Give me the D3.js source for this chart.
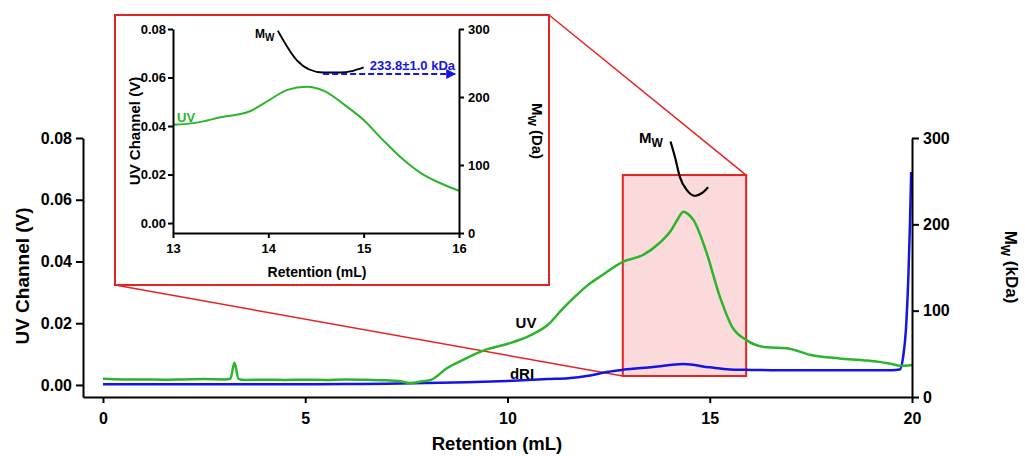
<!DOCTYPE html>
<html><head><meta charset="utf-8">
<script src="https://cdn.jsdelivr.net/npm/d3@7"></script>
<style>
html,body{margin:0;padding:0;background:#fff;}
text{font-family:"Liberation Sans",Arial,sans-serif;}
</style></head>
<body>
<svg id="chart" width="1025" height="456"></svg>
<script>
// ---------- DATA ----------
// Main chromatogram: UV channel (V)
const uvX = [0, 0.5, 1, 1.5, 2, 2.5, 3, 3.15, 3.25, 3.35, 3.5, 4, 4.5, 5, 5.5, 6, 6.5, 7, 7.3, 7.6, 7.9, 8.1, 8.5, 8.9, 9.4, 10.1, 10.55, 11.0, 11.35, 11.7, 12.0, 12.3, 12.85, 13.35, 13.75, 14.05, 14.2, 14.35, 14.45, 14.6, 14.9, 15.25, 15.55, 15.9, 16.4, 16.9, 17.5, 18.2, 18.9, 19.5, 19.7, 20.0];
const uvY = [0.0020, 0.0018, 0.0018, 0.0017, 0.0018, 0.0019, 0.0018, 0.0020, 0.0072, 0.0020, 0.0016, 0.0017, 0.0016, 0.0017, 0.0016, 0.0018, 0.0017, 0.0015, 0.0013, 0.0006, 0.0012, 0.0016, 0.0054, 0.0081, 0.0111, 0.0137, 0.0160, 0.0195, 0.0245, 0.0290, 0.0325, 0.0352, 0.0399, 0.0421, 0.0459, 0.0502, 0.0535, 0.0561, 0.0555, 0.0534, 0.0437, 0.0286, 0.0189, 0.0146, 0.0122, 0.0119, 0.0097, 0.0086, 0.0079, 0.0068, 0.0062, 0.0065];
// Main chromatogram: dRI trace
const driX = [0, 2, 4, 6, 7, 8, 9, 10, 11, 11.5, 12.0, 12.5, 12.85, 13.6, 14.35, 15.0, 15.5, 15.9, 16.5, 18, 19.5, 19.7, 19.78, 19.85, 19.91, 19.95, 19.98];
const driY = [0.0002, 0.0002, 0.0002, 0.0003, 0.0004, 0.0006, 0.0009, 0.0013, 0.0019, 0.0022, 0.0030, 0.0043, 0.0049, 0.0058, 0.0068, 0.0057, 0.0050, 0.0049, 0.0048, 0.0048, 0.0048, 0.0050, 0.0090, 0.0180, 0.0350, 0.0524, 0.0690];
// Main chromatogram: Mw (kDa)
const mwX = [14.03, 14.14, 14.26, 14.43, 14.64, 14.8, 14.96];
const mwY = [296, 278, 255, 240, 233, 236, 243];
// Inset: UV channel (V)
const insetUvX = [13, 13.25, 13.5, 13.8, 14.0, 14.2, 14.4, 14.6, 14.8, 15.0, 15.2, 15.4, 15.6, 15.8, 16.0];
const insetUvY = [0.0405, 0.0414, 0.0436, 0.0460, 0.0505, 0.0549, 0.0562, 0.0542, 0.0487, 0.0425, 0.0343, 0.0267, 0.0206, 0.0165, 0.0133];
// Inset: Mw (kDa)
const insetMwX = [14.10, 14.30, 14.43, 14.575, 14.75, 14.89, 15.0];
const insetMwY = [297.5, 254, 240.5, 236, 236, 238.6, 243.5];
// Zoom region (mL, V) and annotation
const zoomX = [12.85, 15.9];
const zoomY = [0.0029, 0.068];
const mwValue = 233.8;
const mwLabel = "233.8±1.0 kDa";
const arrowX = [14.575, 15.96];
// Ticks
const xTicks = [0, 5, 10, 15, 20];
const yLeftTicks = [0, 0.02, 0.04, 0.06, 0.08];
const yRightTicks = [0, 100, 200, 300];
const insetXTicks = [13, 14, 15, 16];

// ---------- STYLE ----------
const GREEN = "#2db42d", BLUE = "#1414e6", RED = "#e62323", PINK = "#fadada";

const svg = d3.select("#chart");

// ---------- MAIN SCALES ----------
const x = d3.scaleLinear().domain([-0.494, 20]).range([83, 912]);
const yL = d3.scaleLinear().domain([-0.0039, 0.08]).range([397, 138]);
const yR = d3.scaleLinear().domain([0, 300]).range([397, 138]);

// Inset layout
const inBox = {x: 115, y: 15, w: 434, h: 270};
const ix = d3.scaleLinear().domain([13, 16]).range([173, 459]);
const iyL = d3.scaleLinear().domain([-0.0041, 0.08]).range([233, 29]);
const iyR = d3.scaleLinear().domain([0, 300]).range([233, 29]);

// ---------- ZOOM RECT + connectors ----------
svg.append("rect")
  .attr("x", x(zoomX[0])).attr("y", yL(zoomY[1]))
  .attr("width", x(zoomX[1]) - x(zoomX[0])).attr("height", yL(zoomY[0]) - yL(zoomY[1]))
  .attr("fill", PINK).attr("stroke", RED).attr("stroke-width", 2);
svg.append("line")
  .attr("x1", inBox.x).attr("y1", inBox.y + inBox.h)
  .attr("x2", x(zoomX[0])).attr("y2", yL(zoomY[0]))
  .attr("stroke", RED).attr("stroke-width", 1.5);
svg.append("line")
  .attr("x1", inBox.x + inBox.w).attr("y1", inBox.y)
  .attr("x2", x(zoomX[1])).attr("y2", yL(zoomY[1]))
  .attr("stroke", RED).attr("stroke-width", 1.5);

// ---------- MAIN LINES ----------
const lineL = d3.line().x(d => x(d[0])).y(d => yL(d[1])).curve(d3.curveMonotoneX);
const lineR = d3.line().x(d => x(d[0])).y(d => yR(d[1])).curve(d3.curveMonotoneX);
svg.append("path").datum(driX.map((v, i) => [v, driY[i]]))
  .attr("d", lineL).attr("fill", "none").attr("stroke", BLUE).attr("stroke-width", 2.5);
svg.append("path").datum(uvX.map((v, i) => [v, uvY[i]]))
  .attr("d", lineL).attr("fill", "none").attr("stroke", GREEN).attr("stroke-width", 2.5);
svg.append("path").datum(mwX.map((v, i) => [v, mwY[i]]))
  .attr("d", lineR).attr("fill", "none").attr("stroke", "#000").attr("stroke-width", 2.2);

// ---------- MAIN AXES ----------
function styleAxis(g, fs) {
  g.selectAll("path,line").attr("stroke", "#000").attr("stroke-width", 2);
  g.selectAll("text").attr("font-size", fs).attr("font-weight", "bold")
    .attr("fill", "#000").attr("font-family", "Liberation Sans, Arial, sans-serif");
}
svg.append("g").attr("transform", "translate(0,397)")
  .call(d3.axisBottom(x).tickValues(xTicks).tickFormat(d3.format("d")).tickSize(6).tickSizeOuter(0).tickPadding(10))
  .call(g => styleAxis(g, 16));
svg.append("g").attr("transform", "translate(83,0)")
  .call(d3.axisLeft(yL).tickValues(yLeftTicks).tickFormat(d3.format(".2f")).tickSize(7).tickSizeOuter(0).tickPadding(4))
  .call(g => styleAxis(g, 16));
svg.append("g").attr("transform", "translate(912,0)")
  .call(d3.axisRight(yR).tickValues(yRightTicks).tickFormat(d3.format("d")).tickSize(7).tickSizeOuter(0).tickPadding(4))
  .call(g => styleAxis(g, 16));

// Main titles
svg.append("text").attr("transform", "translate(22,276) rotate(-90)")
  .attr("text-anchor", "middle").attr("dy", "0.35em")
  .attr("font-size", 19).attr("font-weight", "bold").text("UV Channel (V)");
svg.append("text").attr("x", 497).attr("y", 444)
  .attr("text-anchor", "middle").attr("dy", "0.35em")
  .attr("font-size", 18.5).attr("font-weight", "bold").text("Retention (mL)");
const rt = svg.append("text").attr("transform", "translate(1011,267) rotate(90)")
  .attr("text-anchor", "middle").attr("dy", "0.35em")
  .attr("font-size", 17).attr("font-weight", "bold");
rt.append("tspan").text("M");
rt.append("tspan").attr("font-size", 12).attr("dy", "0.3em").text("W");
rt.append("tspan").attr("dy", "-0.25em").text(" (kDa)");

// Main curve labels
svg.append("text").attr("x", 526).attr("y", 323).attr("dy", "0.35em").attr("text-anchor", "middle")
  .attr("font-size", 15).attr("font-weight", "bold").text("UV");
svg.append("text").attr("x", 522).attr("y", 374).attr("dy", "0.35em").attr("text-anchor", "middle")
  .attr("font-size", 15).attr("font-weight", "bold").text("dRI");
const mwT = svg.append("text").attr("x", 639).attr("y", 143)
  .attr("font-size", 15).attr("font-weight", "bold");
mwT.append("tspan").text("M");
mwT.append("tspan").attr("font-size", 12).attr("dy", 4).text("W");

// ---------- INSET ----------
svg.append("rect").attr("x", inBox.x).attr("y", inBox.y).attr("width", inBox.w).attr("height", inBox.h)
  .attr("fill", "#fff").attr("stroke", RED).attr("stroke-width", 2);

const ilineL = d3.line().x(d => ix(d[0])).y(d => iyL(d[1])).curve(d3.curveMonotoneX);
const ilineR = d3.line().x(d => ix(d[0])).y(d => iyR(d[1])).curve(d3.curveMonotoneX);
svg.append("path").datum(insetUvX.map((v, i) => [v, insetUvY[i]]))
  .attr("d", ilineL).attr("fill", "none").attr("stroke", GREEN).attr("stroke-width", 2);
svg.append("path").datum(insetMwX.map((v, i) => [v, insetMwY[i]]))
  .attr("d", ilineR).attr("fill", "none").attr("stroke", "#000").attr("stroke-width", 1.8);

// arrow
const defs = svg.append("defs");
defs.append("marker").attr("id", "arr").attr("viewBox", "0 0 10 10").attr("refX", 9).attr("refY", 5)
  .attr("markerWidth", 5).attr("markerHeight", 5).attr("orient", "auto")
  .append("path").attr("d", "M0,0 L10,5 L0,10 z").attr("fill", BLUE);
svg.append("line")
  .attr("x1", ix(arrowX[0])).attr("y1", iyR(mwValue))
  .attr("x2", ix(arrowX[1])).attr("y2", iyR(mwValue))
  .attr("stroke", BLUE).attr("stroke-width", 2).attr("stroke-dasharray", "6,3")
  .attr("marker-end", "url(#arr)");
svg.append("text").attr("x", 455).attr("y", 70).attr("text-anchor", "end")
  .attr("font-size", 13).attr("font-weight", "bold").attr("fill", BLUE).text(mwLabel);

// inset axes
svg.append("g").attr("transform", "translate(0,233)")
  .call(d3.axisBottom(ix).tickValues(insetXTicks).tickFormat(d3.format("d")).tickSize(5).tickSizeOuter(0).tickPadding(6))
  .call(g => styleAxis(g, 13));
svg.append("g").attr("transform", "translate(173,0)")
  .call(d3.axisLeft(iyL).tickValues(yLeftTicks).tickFormat(d3.format(".2f")).tickSize(5).tickSizeOuter(0).tickPadding(2))
  .call(g => styleAxis(g, 13));
svg.append("g").attr("transform", "translate(459,0)")
  .call(d3.axisRight(iyR).tickValues(yRightTicks).tickFormat(d3.format("d")).tickSize(5).tickSizeOuter(0).tickPadding(4))
  .call(g => styleAxis(g, 13));

svg.append("text").attr("transform", "translate(135,131) rotate(-90)")
  .attr("text-anchor", "middle").attr("dy", "0.35em")
  .attr("font-size", 15).attr("font-weight", "bold").text("UV Channel (V)");
svg.append("text").attr("x", 317).attr("y", 272)
  .attr("text-anchor", "middle").attr("dy", "0.35em")
  .attr("font-size", 14).attr("font-weight", "bold").text("Retention (mL)");
const irt = svg.append("text").attr("transform", "translate(537,131) rotate(90)")
  .attr("text-anchor", "middle").attr("dy", "0.35em")
  .attr("font-size", 15).attr("font-weight", "bold");
irt.append("tspan").text("M");
irt.append("tspan").attr("font-size", 11).attr("dy", "0.3em").text("W");
irt.append("tspan").attr("dy", "-0.25em").text(" (Da)");

svg.append("text").attr("x", 177).attr("y", 122)
  .attr("font-size", 13).attr("font-weight", "bold").attr("fill", GREEN).text("UV");
const imw = svg.append("text").attr("x", 255).attr("y", 38)
  .attr("font-size", 12).attr("font-weight", "bold");
imw.append("tspan").text("M");
imw.append("tspan").attr("font-size", 10).attr("dy", 3).text("W");
</script>
</body></html>
